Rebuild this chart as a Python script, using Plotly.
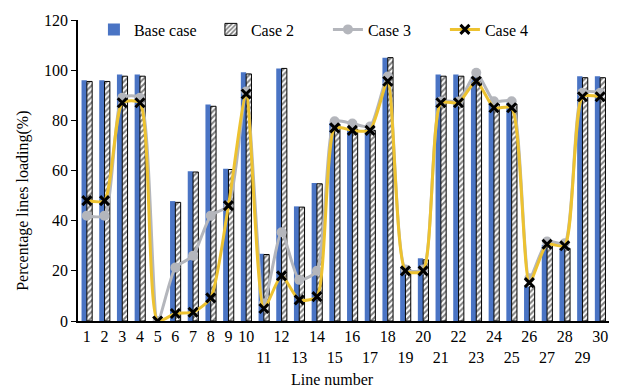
import plotly.graph_objects as go

lines = list(range(1, 31))
tick_labels = [str(n) if (n <= 10 or n % 2 == 0) else "<br>" + str(n) for n in lines]

base_case = [96, 96, 98.3, 98.3, 0, 47.8, 59.7, 86.3, 60.7, 99.2,
             26.8, 100.7, 45.7, 55.0, 79, 77, 76.5, 105, 21.4, 25,
             98.3, 98.3, 97.5, 87, 87, 13.7, 30.4, 29, 97.6, 97.6]
case_2 = [95.5, 95.5, 97.6, 97.6, 0, 47.3, 59.4, 85.6, 60.4, 98.5,
          26.5, 100.7, 45.4, 54.7, 78.5, 76.5, 76, 105, 20.6, 24.4,
          97.6, 97.6, 97, 86.5, 86.5, 13.7, 31, 29, 97, 97]
case_3 = [42, 42, 89, 89, 0, 21.3, 26, 42, 46, 91.5,
          7, 35.4, 16.4, 20, 79.6, 78.7, 77.5, 97.5, 20.5, 20.5,
          87.5, 87.5, 99, 87.6, 87.6, 17, 31.7, 31, 91, 91]
case_4 = [48, 48, 87, 87, 0, 3, 3.5, 9.2, 46, 90.5,
          5, 18, 8.4, 9.7, 77, 76, 76, 95.6, 20, 20,
          87, 87, 95.6, 85, 85, 15.3, 30.6, 30, 89.4, 89.4]

serif = "Liberation Serif, Times New Roman, serif"

fig = go.Figure()
fig.add_trace(go.Bar(
    x=lines, y=base_case, name="Base case",
    marker=dict(color="#4A74C4", line=dict(width=0)),
))
fig.add_trace(go.Bar(
    x=lines, y=case_2, name="Case 2",
    marker=dict(color="white", line=dict(color="black", width=1),
                pattern=dict(shape="/", fgcolor="black", bgcolor="white",
                             size=4, solidity=0.5)),
))
fig.add_trace(go.Scatter(
    x=lines, y=case_3, name="Case 3", mode="lines+markers",
    line=dict(color="#B4B6BC", width=3, shape="spline", smoothing=0.6),
    marker=dict(symbol="circle", size=10, color="#B4B6BC"),
))
fig.add_trace(go.Scatter(
    x=lines, y=case_4, name="Case 4", mode="lines+markers",
    line=dict(color="#EDC230", width=3, shape="spline", smoothing=0.6),
    marker=dict(symbol="x-thin", size=9, color="black",
                line=dict(color="black", width=3)),
))

fig.update_layout(
    width=620, height=390,
    margin=dict(l=78, r=11, t=20, b=69),
    paper_bgcolor="white", plot_bgcolor="white",
    barmode="group", bargap=0.4, bargroupgap=0.0,
    font=dict(family=serif, size=16, color="black"),
    showlegend=True,
    legend=dict(orientation="h", x=0.03, y=1.025, xanchor="left", yanchor="top",
                bgcolor="rgba(0,0,0,0)", font=dict(size=16, family=serif),
                itemwidth=30, tracegroupgap=0,
                entrywidth=72, entrywidthmode="pixels"),
    xaxis=dict(
        range=[0.5, 30.5], tickmode="array", tickvals=lines, ticktext=tick_labels,
        tickangle=0,
        showline=True, linecolor="black", linewidth=1.5, ticks="",
        showgrid=False, zeroline=False,
        tickfont=dict(size=16, family=serif),
    ),
    yaxis=dict(
        range=[0, 120], dtick=20, showline=True, linecolor="black", linewidth=1.5,
        ticks="outside", ticklen=5, tickcolor="black", showgrid=False, zeroline=False,
        tickfont=dict(size=16, family=serif),
    ),
    annotations=[
        dict(text="Line number", xref="paper", yref="paper", x=0.48, y=-0.196,
             xanchor="center", yanchor="middle", showarrow=False,
             font=dict(size=16, family=serif)),
        dict(text="Percentage lines loading(%)", xref="paper", yref="paper",
             x=-0.105, y=0.40, xanchor="center", yanchor="middle", textangle=-90,
             showarrow=False, font=dict(size=16, family=serif)),
    ],
)

fig.write_html("out.html")
